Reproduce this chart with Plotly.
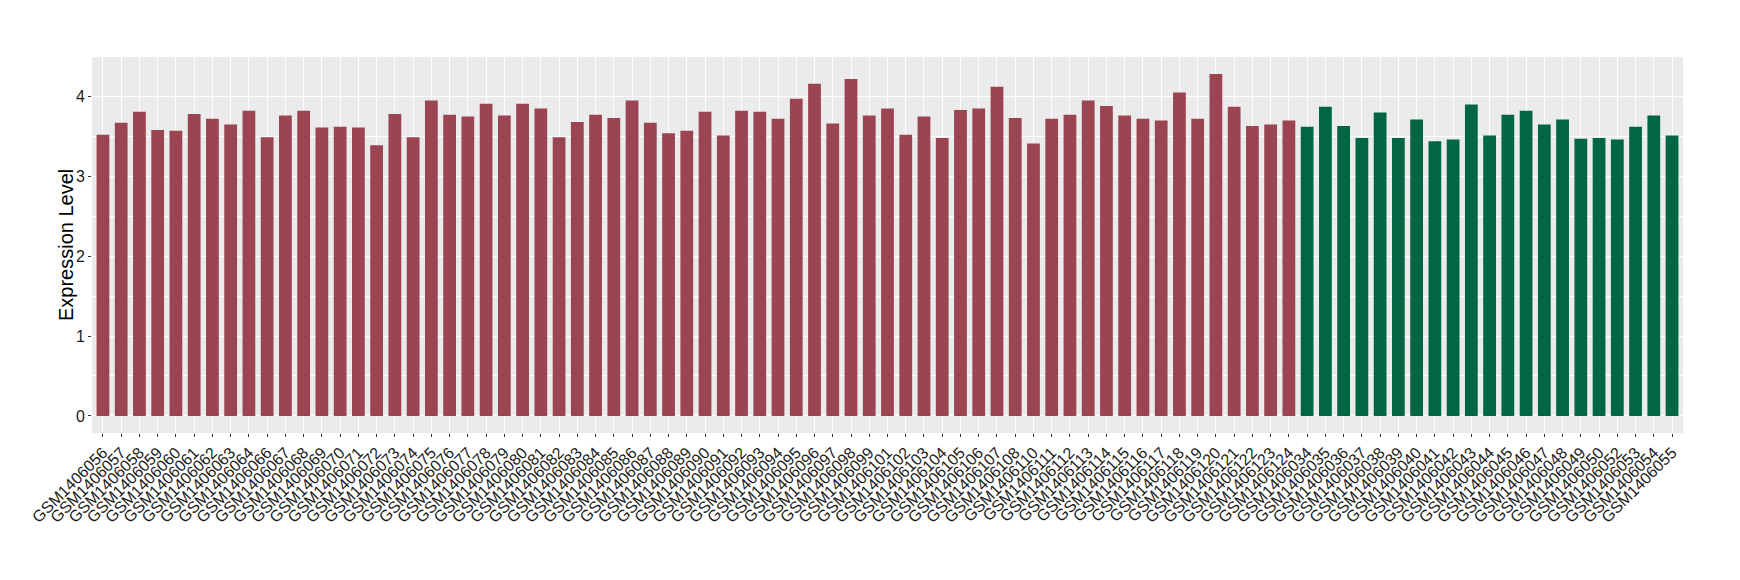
import plotly.graph_objects as go

# sample ids, in plotted order
tumor_samples = [
    "GSM1406056", "GSM1406057", "GSM1406058", "GSM1406059", "GSM1406060",
    "GSM1406061", "GSM1406062", "GSM1406063", "GSM1406064", "GSM1406066",
    "GSM1406067", "GSM1406068", "GSM1406069", "GSM1406070", "GSM1406071",
    "GSM1406072", "GSM1406073", "GSM1406074", "GSM1406075", "GSM1406076",
    "GSM1406077", "GSM1406078", "GSM1406079", "GSM1406080", "GSM1406081",
    "GSM1406082", "GSM1406083", "GSM1406084", "GSM1406085", "GSM1406086",
    "GSM1406087", "GSM1406088", "GSM1406089", "GSM1406090", "GSM1406091",
    "GSM1406092", "GSM1406093", "GSM1406094", "GSM1406095", "GSM1406096",
    "GSM1406097", "GSM1406098", "GSM1406099", "GSM1406101", "GSM1406102",
    "GSM1406103", "GSM1406104", "GSM1406105", "GSM1406106", "GSM1406107",
    "GSM1406108", "GSM1406110", "GSM1406111", "GSM1406112", "GSM1406113",
    "GSM1406114", "GSM1406115", "GSM1406116", "GSM1406117", "GSM1406118",
    "GSM1406119", "GSM1406120", "GSM1406121", "GSM1406122", "GSM1406123",
    "GSM1406124",
]
tumor_values = [
    3.52, 3.67, 3.81, 3.58, 3.57, 3.78, 3.72, 3.65, 3.82, 3.49,
    3.76, 3.82, 3.61, 3.62, 3.61, 3.39, 3.78, 3.49, 3.95, 3.77,
    3.75, 3.91, 3.76, 3.91, 3.85, 3.49, 3.68, 3.77, 3.73, 3.95,
    3.67, 3.54, 3.57, 3.81, 3.51, 3.82, 3.81, 3.72, 3.97, 4.16,
    3.66, 4.22, 3.76, 3.85, 3.52, 3.75, 3.48, 3.83, 3.85, 4.12,
    3.73, 3.41, 3.72, 3.77, 3.95, 3.88, 3.76, 3.72, 3.70, 4.05,
    3.72, 4.28, 3.87, 3.63, 3.65, 3.70,
]

normal_samples = [
    "GSM1406034", "GSM1406035", "GSM1406036", "GSM1406037", "GSM1406038",
    "GSM1406039", "GSM1406040", "GSM1406041", "GSM1406042", "GSM1406043",
    "GSM1406044", "GSM1406045", "GSM1406046", "GSM1406047", "GSM1406048",
    "GSM1406049", "GSM1406050", "GSM1406052", "GSM1406053", "GSM1406054",
    "GSM1406055",
]
normal_values = [
    3.62, 3.87, 3.63, 3.48, 3.80, 3.48, 3.71, 3.44, 3.46, 3.90,
    3.51, 3.77, 3.82, 3.65, 3.71, 3.47, 3.48, 3.46, 3.62, 3.76,
    3.51,
]

RED = "#9B4452"
GREEN = "#006644"
FONT = "Liberation Sans, Arial, sans-serif"

samples = tumor_samples + normal_samples
values = tumor_values + normal_values
colors = [RED] * len(tumor_samples) + [GREEN] * len(normal_samples)

fig = go.Figure(go.Bar(
    x=samples, y=values, width=0.7,
    marker=dict(color=colors, line=dict(width=0)),
    showlegend=False,
))

n = len(samples)
ymax = max(values)
pad = ymax * 0.05

# every sample gets its label, like ggplot does
fig.update_xaxes(
    type="category", categoryorder="array", categoryarray=samples,
    tickmode="array", tickvals=samples, ticktext=samples,
    range=[-0.6, n - 1 + 0.6], automargin=False,
    tickangle=-45, ticks="outside", ticklen=3, tickcolor="#333333",
    tickfont=dict(family=FONT, size=16, color="#1a1a1a"),
    showgrid=True, gridcolor="white", gridwidth=1.1,
    zeroline=False, showline=False,
)
fig.update_yaxes(
    range=[-pad, ymax + pad], dtick=1, tick0=0, automargin=False,
    ticks="outside", ticklen=3, tickcolor="#333333",
    tickfont=dict(family=FONT, size=16, color="#1a1a1a"),
    showgrid=True, gridcolor="white", gridwidth=1.1,
    minor=dict(dtick=0.5, showgrid=True, gridcolor="white", gridwidth=0.5),
    zeroline=False, showline=False,
)

# y title placed by hand, closer to the tick labels than plotly puts it
fig.add_annotation(
    text="Expression Level", textangle=-90,
    xref="paper", yref="paper", x=0, y=0.5,
    xanchor="center", yanchor="middle", xshift=-26, showarrow=False,
    font=dict(family=FONT, size=20, color="black"),
)

# page body adds an 8px offset, so the size and margins are trimmed by that much
fig.update_layout(
    width=1732, height=572,
    plot_bgcolor="#EBEBEB", paper_bgcolor="white",
    margin=dict(l=84, r=57, t=49, b=147),
)

fig.write_html("out.html")
